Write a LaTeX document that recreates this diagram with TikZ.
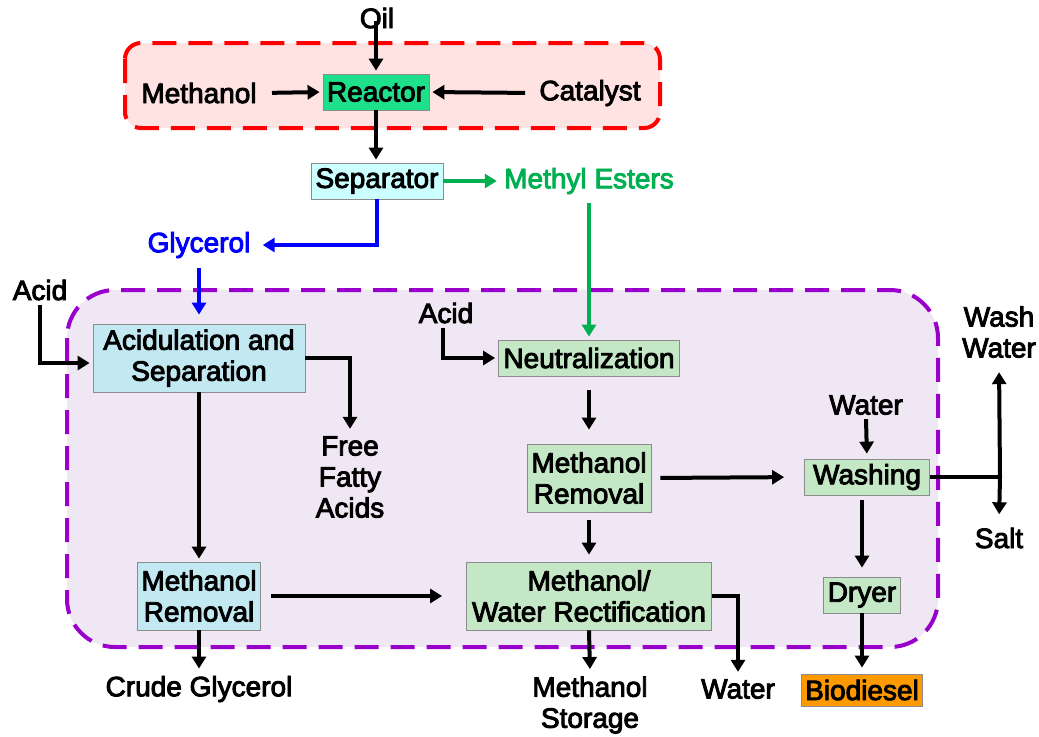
\documentclass[tikz,border=0pt]{standalone}
\usepackage{fontspec}
\setmainfont{Liberation Sans}
\usetikzlibrary{arrows.meta}
\definecolor{reactgreen}{RGB}{30,224,138}
\definecolor{sepcyan}{RGB}{204,255,255}
\definecolor{lightblue}{RGB}{194,232,242}
\definecolor{lightgreen}{RGB}{196,232,198}
\definecolor{bioorange}{RGB}{255,153,0}
\definecolor{estergreen}{RGB}{0,176,80}
\definecolor{glyblue}{RGB}{0,0,255}
\definecolor{zonered}{RGB}{255,0,0}
\definecolor{zonepink}{RGB}{255,226,226}
\definecolor{zonepurple}{RGB}{153,0,204}
\definecolor{zonelilac}{RGB}{239,232,244}
\newcommand\heavytext{\special{pdf:literal direct 2 Tr 0.45 w}}

\begin{document}
\begin{tikzpicture}[x=0.5pt, y=-0.5pt,
  every node/.style={font=\fontsize{14}{15.5}\selectfont\heavytext},
  unit/.style={draw=gray!90, thin, align=center, inner sep=2pt, minimum height=18pt},
  lbl/.style={align=center, inner sep=2pt},
  flow/.style={line width=2pt, shorten >=1.5pt, -{Triangle[length=6pt,width=7pt]}},
  zone/.style={line width=2pt, dash pattern=on 12pt off 6pt}]
\useasboundingbox (0,0) rectangle (1039,736);
% Zones
\draw[zone, draw=zonered, fill=zonepink, rounded corners=8pt] (125,43) rectangle (660,128);
\draw[zone, draw=zonepurple, fill=zonelilac, rounded corners=24pt] (67,290) rectangle (938,647);
% Reaction stage
\node[lbl] (oil) at (377,18) {Oil};
\node[unit, fill=reactgreen, minimum width=53pt] (reactor) at (376,92) {Reactor};
\node[lbl] (meth) at (199,93) {Methanol};
\node[lbl] (cat) at (590,93) {Catalyst};
\node[unit, fill=sepcyan, minimum width=66pt] (sep) at (377,181) {Separator};
\node[lbl, text=estergreen] (esters) at (589,181) {Methyl Esters};
\node[lbl, text=glyblue] (glyc) at (199,245) {Glycerol};
% Glycerol line
\node[lbl] (acidL) at (40,290) {Acid};
\node[unit, fill=lightblue, minimum width=106pt, minimum height=34pt] (acidsep) at (199,358) {Acidulation and\\Separation};
\node[lbl] (ffa) at (350,477) {Free\\Fatty\\Acids};
\node[unit, fill=lightblue, minimum width=61.5pt, minimum height=34pt] (mrL) at (199,596) {Methanol\\Removal};
\node[lbl] (crude) at (199,689) {Crude Glycerol};
% Ester line
\node[lbl] (acidR) at (446,313) {Acid};
\node[unit, fill=lightgreen, minimum width=90.5pt] (neut) at (589,358) {Neutralization};
\node[unit, fill=lightgreen, minimum width=62pt, minimum height=34pt] (mrR) at (589,478) {Methanol\\Removal};
\node[unit, fill=lightgreen, minimum width=122.5pt, minimum height=34pt] (rect) at (589,596) {Methanol/\\Water Rectification};
\node[lbl] (water1) at (866,405) {Water};
\node[unit, fill=lightgreen, minimum width=62.5pt] (wash) at (867,477) {Washing};
\node[unit, fill=lightgreen, minimum width=36pt] (dryer) at (862,595) {Dryer};
\node[unit, fill=bioorange, minimum width=59pt, minimum height=16pt] (bio) at (862,690) {Biodiesel};
\node[lbl] (washwater) at (999,332) {Wash\\Water};
\node[lbl] (salt) at (999,538) {Salt};
\node[lbl] (mstore) at (590,705) {Methanol\\Storage};
\node[lbl] (water2) at (738,689) {Water};
\coordinate (split) at (1000,477);
% Connectors
\draw[flow, shorten <=-6pt] (oil.south -| reactor.north) -- (reactor.north);
\draw[flow, shorten <=5.5pt] (meth.east) -- (reactor.west);
\draw[flow, shorten <=5pt] (cat.west) -- (reactor.east);
\draw[flow] (reactor.south) -- (reactor.south |- sep.north);
\draw[flow, estergreen] (sep.east) -- (esters.west);
\draw[flow, estergreen, shorten <=2.5pt] (esters.south) -- (neut.north);
\draw[flow, glyblue, shorten >=4pt] (sep.south) |- (glyc.east);
\draw[flow, glyblue, shorten <=3pt, shorten >=4.5pt] (glyc.south) -- (acidsep.north);
\draw[flow] (acidL.south) |- ([yshift=-2.5pt]acidsep.west);
\draw[flow] (acidsep.east) -| (ffa.north);
\draw[flow] (acidsep.south) -- (mrL.north);
\draw[flow, shorten <=5pt, shorten >=12pt] (mrL.east) -- (rect.west);
\draw[flow] (mrL.south) -- (crude.north);
\draw[flow] ([xshift=-1.5pt]acidR.south) |- (neut.west);
\draw[flow, shorten <=7pt, shorten >=7pt] (neut.south) -- (mrR.north);
\draw[flow, shorten <=4.5pt, shorten >=10pt] (mrR.east) -- (wash.west);
\draw[flow, shorten <=4pt, shorten >=3.5pt] (mrR.south) -- (rect.north);
\draw[flow, shorten >=2.5pt] (water1.south) -- (wash.north);
\draw[line width=2pt] (wash.east) -- (split);
\draw[flow, shorten >=5pt] (split) -- (washwater.south);
\draw[flow, shorten >=4.5pt] (split) -- (salt.north);
\draw[flow, shorten <=2.5pt, shorten >=4.5pt] (wash.south -| dryer.north) -- (dryer.north);
\draw[flow, shorten >=3pt] (dryer) -- (bio);
\draw[flow] (rect.south) -- (mstore.north);
\draw[flow] (rect.east) -| (water2.north);
\end{tikzpicture}
\end{document}
